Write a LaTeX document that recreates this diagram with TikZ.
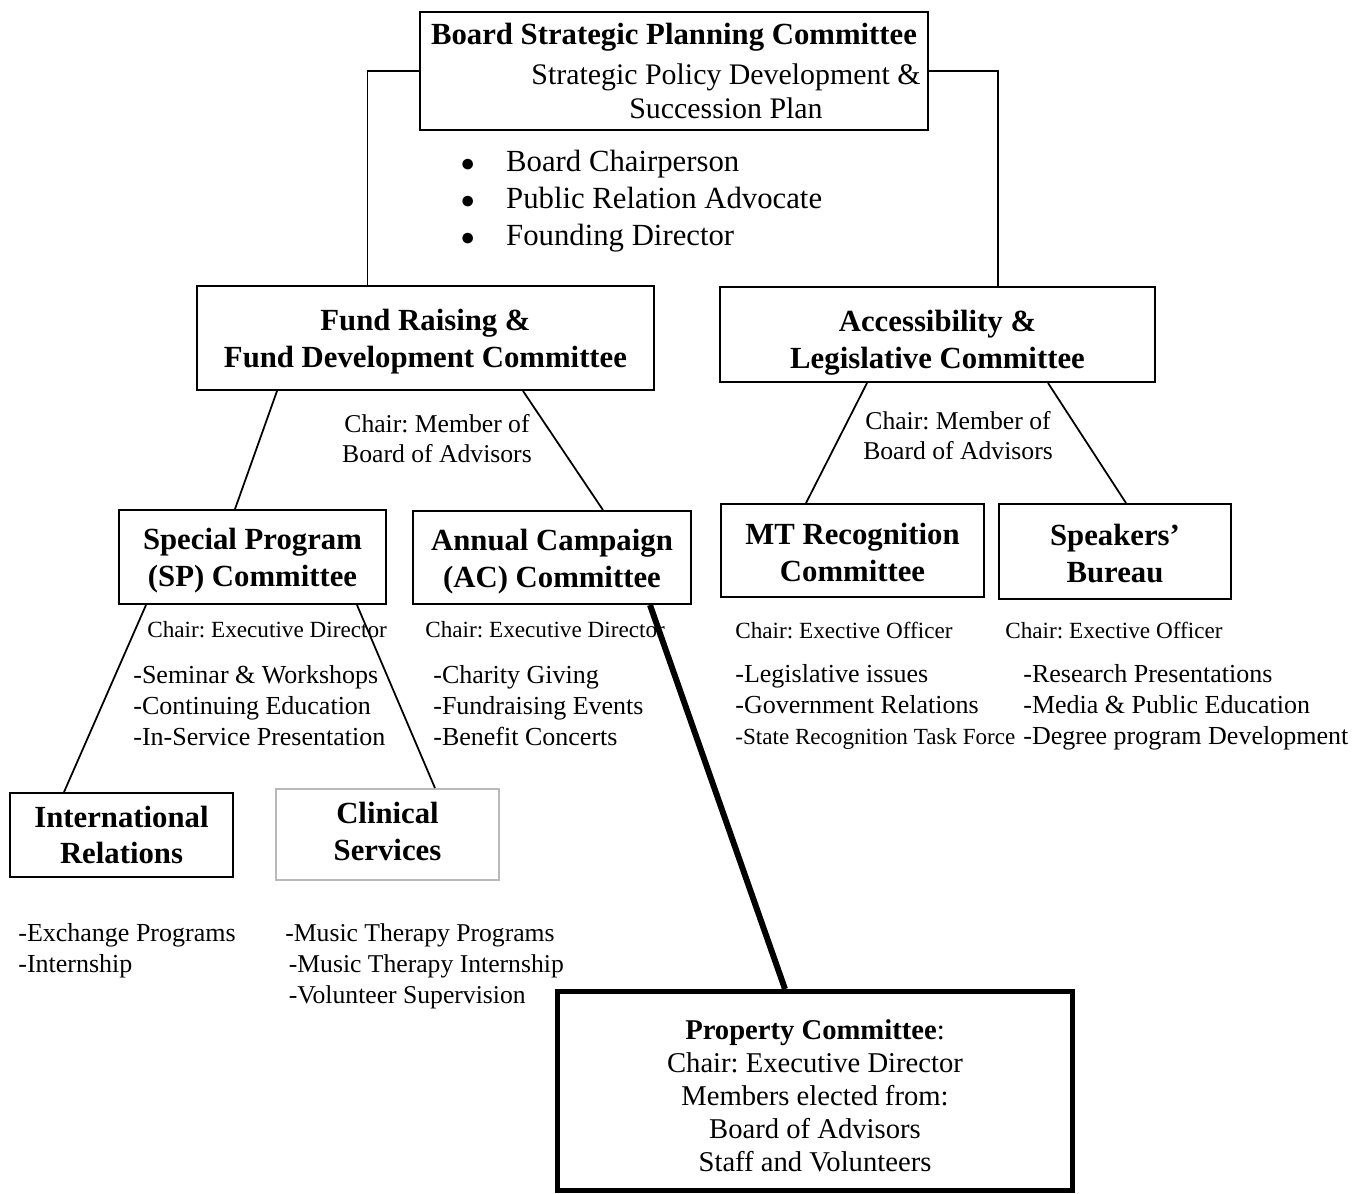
\documentclass[tikz,border=0pt]{standalone}
\usepackage{fontspec}
\setmainfont{Liberation Serif}
\usepackage{tikz}
\frenchspacing

% lifts the box text a little lower in its frame
\newcommand\boxtop[1]{\rule{0pt}{#1em}}
\newcommand\bul{{\fontsize{14}{14}\selectfont ●}}

\tikzset{
  cbox/.style={draw,line width=1.1pt,align=center,inner sep=0pt,
    font=\bfseries\fontsize{17.5}{21}\selectfont},
  chairtxt/.style={anchor=west,inner sep=0pt,font=\fontsize{13.2}{15}\selectfont},
  listtxt/.style={anchor=west,align=left,inner sep=0pt,font=\fontsize{14.8}{17.6}\selectfont},
  link/.style={line width=1pt}
}

\begin{document}
\begin{tikzpicture}[x=0.02cm,y=-0.02cm]
\useasboundingbox (0,0) rectangle (1364,1193);
\node[cbox,minimum width=10.16cm,minimum height=2.36cm,
  font=\bfseries\fontsize{17.5}{19}\selectfont] (board) at (674,71)
  {Board Strategic Planning Committee\\[3.7pt]
   \mdseries\fontsize{17}{19}\selectfont\hspace*{2.08cm}Strategic Policy Development \&\\
   \mdseries\fontsize{17}{19}\selectfont\hspace*{2.08cm}Succession Plan};
\node[anchor=west,inner sep=0pt,font=\fontsize{17.5}{21.2}\selectfont] (staff) at (460,201)
  {\begin{tabular}{@{}l@{\hspace{0.62cm}}l@{}}
   \bul & Board Chairperson\\
   \bul & Public Relation Advocate\\
   \bul & Founding Director
   \end{tabular}};
\node[cbox,minimum width=9.14cm,minimum height=2.08cm] (fund) at (425.5,338)
  {\boxtop{0.95}Fund Raising \&\\Fund Development Committee};
\node[cbox,minimum width=8.7cm,minimum height=1.9cm] (access) at (937.5,334.5)
  {\boxtop{1.2}Accessibility \&\\Legislative Committee};
\node[align=center,inner sep=0pt,font=\fontsize{14.6}{17}\selectfont] (fundchair) at (437,439)
  {Chair: Member of\\Board of Advisors};
\node[align=center,inner sep=0pt,font=\fontsize{14.6}{17}\selectfont] (accchair) at (958,436)
  {Chair: Member of\\Board of Advisors};
\node[cbox,minimum width=5.34cm,minimum height=1.88cm] (sp) at (252.5,557)
  {\boxtop{0.95}Special Program\\(SP) Committee};
\node[cbox,minimum width=5.56cm,minimum height=1.86cm] (ac) at (552,557.5)
  {\boxtop{0.95}Annual Campaign\\(AC) Committee};
\node[cbox,minimum width=5.26cm,minimum height=1.86cm] (mt) at (852.5,550.5)
  {\boxtop{0.8}MT Recognition\\Committee};
\node[cbox,minimum width=4.64cm,minimum height=1.9cm] (spk) at (1115,551.5)
  {\boxtop{0.8}Speakers'\\Bureau};
\node[cbox,minimum width=4.46cm,minimum height=1.68cm] (ir) at (121.5,835)
  {International\\Relations};
\node[cbox,draw=gray!55,minimum width=4.46cm,minimum height=1.82cm] (clin) at (387.5,834.5)
  {Clinical\\\rule[-3.4pt]{0pt}{0pt}Services};
\node[cbox,line width=2.8pt,minimum width=10.3cm,minimum height=3.98cm,
  font=\fontsize{16.3}{18.8}\selectfont] (prop) at (815,1091)
  {\boxtop{1.05}\textbf{Property Committee}:\\Chair: Executive Director\\Members elected from:\\
   Board of Advisors\\Staff and Volunteers};

\foreach \nm/\x/\txt in {spchair/147/Chair: Executive Director,
    acchair/425/Chair: Executive Director,
    mtchair/735/Chair: Exective Officer,
    spkchair/1005/Chair: Exective Officer}
  \node[chairtxt] (\nm) at (\x,630) {\txt};

\node[listtxt] (splist) at (133,706)
  {-Seminar \& Workshops\\-Continuing Education\\-In-Service Presentation};
\node[listtxt] (aclist) at (433,706)
  {-Charity Giving\\-Fundraising Events\\-Benefit Concerts};
\node[listtxt] (mtlist) at (735,707)
  {-Legislative issues\\-Government Relations\\
   {\fontsize{13.15}{17.6}\selectfont -State Recognition Task Force}};
\node[listtxt] (spklist) at (1023,707)
  {-Research Presentations\\-Media \& Public Education\\-Degree program Development};
\node[listtxt] (irlist) at (18,951)
  {-Exchange Programs\\-Internship};
\node[listtxt,font=\fontsize{14.6}{17.6}\selectfont] (clinlist) at (285,966)
  {-Music Therapy Programs\\\hspace*{2pt}-Music Therapy Internship\\\hspace*{2pt}-Volunteer Supervision};

\draw[link] (board.west) -| ([xshift=-1.16cm]fund.north);
\draw[link] (board.east) -| ([xshift=1.21cm]access.north);
\draw[link] ([xshift=-2.97cm]fund.south) -- ([xshift=-0.35cm]sp.north);
\draw[link] ([xshift=1.95cm]fund.south) -- ([xshift=1.02cm]ac.north);
\draw[link] ([xshift=-1.41cm]access.south) -- ([xshift=-0.93cm]mt.north);
\draw[link] ([xshift=2.21cm]access.south) -- ([xshift=0.22cm]spk.north);
\draw[link] ([xshift=-2.13cm]sp.south) -- ([xshift=-1.15cm]ir.north);
\draw[link] ([xshift=2.09cm]sp.south) -- ([xshift=0.95cm]clin.north);
\draw[line width=3.4pt] ([xshift=1.96cm]ac.south) -- ([xshift=-0.6cm]prop.north);
\end{tikzpicture}
\end{document}
